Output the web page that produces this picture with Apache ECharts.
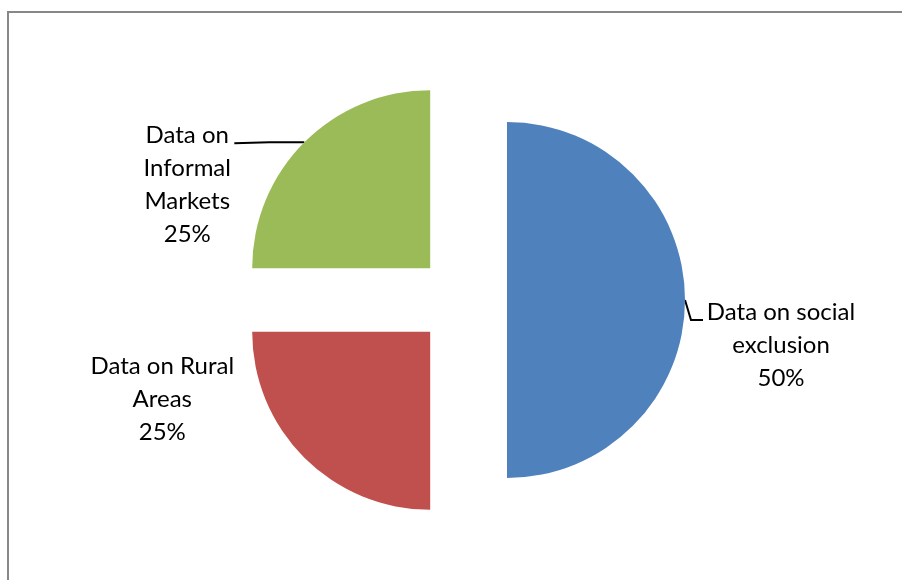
<!DOCTYPE html>
<html>
<head>
<meta charset="utf-8">
<script src="https://cdn.jsdelivr.net/npm/echarts@6/dist/echarts.min.js"></script>
<style>
    html, body { margin: 0; padding: 0; background: #fff; }
    #frame { position: absolute; left: 7px; top: 11px; width: 920px; height: 620px; border: 2px solid #878787; }
    #chart { position: absolute; left: 0; top: 0; width: 902px; height: 580px; }
</style>
</head>
<body>
<div id="frame"></div>
<div id="chart"></div>
<script>
    // data, clockwise from 12 o'clock
    var names = ['Data on social\nexclusion', 'Data on Rural\nAreas', 'Data on\nInformal\nMarkets'];
    var values = [50, 25, 25];
    var colors = ['#4F81BD', '#C0504D', '#9BBB59'];

    // horizontal padding [right, left] and blank space [above, below] for each text block
    var labelPadH = [[0, 142], [240, 0], [190, 0]];
    var labelGap = [[90, 0], [0, 130], [99, 0]];
    // leader line bends, relative to the point on the slice edge
    var lineBend = [
        [[6, 20], [18, 20]],
        null,
        [[-35, 0], [-70, 1]]
    ];

    var pieData = [];
    for (var i = 0; i < names.length; i++) {
        var fmt = '{b}\n{d}%';
        var rich = {};
        if (labelGap[i][0] > 0) {
            fmt = '{top| }\n' + fmt;
            rich.top = { lineHeight: labelGap[i][0], fontSize: 10 };
        }
        if (labelGap[i][1] > 0) {
            fmt = fmt + '\n{bot| }';
            rich.bot = { lineHeight: labelGap[i][1], fontSize: 10 };
        }
        pieData.push({
            name: names[i],
            value: values[i],
            selected: true,
            itemStyle: { color: colors[i] },
            label: {
                formatter: fmt,
                rich: rich,
                padding: [0, labelPadH[i][0], 0, labelPadH[i][1]]
            },
            labelLine: { show: lineBend[i] != null }
        });
    }

    var myChart = echarts.init(document.getElementById('chart'));

    var option = {
        animation: false,
        series: [
            {
                type: 'pie',
                center: [462, 300],
                radius: 178,
                startAngle: 90,
                clockwise: true,
                selectedMode: 'multiple',
                selectedOffset: 45,
                avoidLabelOverlap: false,
                silent: true,
                label: {
                    show: true,
                    position: 'outside',
                    fontFamily: 'Lato',
                    fontSize: 24,
                    lineHeight: 33,
                    width: 170,
                    color: '#000'
                },
                labelLine: {
                    show: true,
                    length: 10,
                    length2: 10,
                    lineStyle: { color: '#000', width: 2 }
                },
                labelLayout: function (params) {
                    var i = params.dataIndex;
                    var res = { align: 'center', verticalAlign: 'middle' };
                    if (lineBend[i] && params.labelLinePoints) {
                        var a = params.labelLinePoints[0];
                        res.labelLinePoints = [
                            [a[0], a[1]],
                            [a[0] + lineBend[i][0][0], a[1] + lineBend[i][0][1]],
                            [a[0] + lineBend[i][1][0], a[1] + lineBend[i][1][1]]
                        ];
                    }
                    return res;
                },
                emphasis: { disabled: true },
                data: pieData
            }
        ]
    };

    myChart.setOption(option, true);
</script>
</body>
</html>
